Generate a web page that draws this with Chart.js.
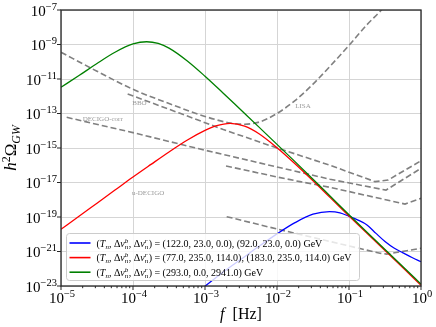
<!DOCTYPE html>
<html>
<head>
<meta charset="utf-8">
<script src="https://cdn.jsdelivr.net/npm/chart.js@4.4.1/dist/chart.umd.min.js"></script>
<style>
  html, body { margin: 0; padding: 0; background: #fff; }
  canvas { display: block; }
</style>
</head>
<body>
<canvas id="gw" width="436" height="327"></canvas>
<script>
// all values are log10 of f [Hz] and log10 of h^2 Omega_GW
const greenLogF = [-5, -4.75, -4.5, -4.25, -4.0, -3.81, -3.65, -3.5, -3.25, -3.0, -2.75, -2.5, -2.25, -2.0, -1.75, -1.5, -1.25, -1.0, -0.75, -0.5, -0.25, 0];
const greenLogH = [-11.48, -10.8, -10.1, -9.45, -8.97, -8.84, -8.94, -9.21, -9.94, -10.84, -11.81, -12.8, -13.79, -14.79, -15.79, -16.81, -17.84, -18.87, -19.88, -20.88, -21.88, -22.89];

const redLogF = [-5, -4.75, -4.5, -4.25, -4.0, -3.75, -3.5, -3.25, -3.0, -2.85, -2.65, -2.45, -2.25, -2.0, -1.75, -1.5, -1.25, -1.0, -0.75, -0.5, -0.25, 0];
const redLogH = [-19.71, -18.96, -18.2, -17.44, -16.68, -15.95, -15.23, -14.55, -13.98, -13.72, -13.57, -13.73, -14.17, -14.98, -15.91, -16.9, -17.92, -18.94, -19.94, -20.94, -21.94, -22.96];

const blueLogF = [-3.1, -2.75, -2.5, -2.25, -2.0, -1.75, -1.5, -1.27, -1.125, -1.0, -0.875, -0.75, -0.625, -0.5, -0.375, -0.25, -0.125, 0];
const blueLogH = [-23.33, -22.2, -21.45, -20.7, -19.98, -19.33, -18.84, -18.69, -18.76, -18.96, -19.18, -19.46, -19.95, -20.42, -20.8, -21.08, -21.35, -21.59];

// detector sensitivity curves (dashed)
const lisaLogF = [-5, -4.5, -4, -3.5, -3.0, -2.65, -2.45, -2.25, -2.0, -1.75, -1.5, -1.25, -1.0, -0.75, -0.55, -0.3];
const lisaLogH = [-9.45, -10.55, -11.6, -12.42, -13.17, -13.55, -13.62, -13.5, -13.0, -12.25, -11.3, -10.2, -9.05, -7.85, -7.0, -5.8];

const bboLogF = [-4.074, -3.347, -2.746, -2.0, -1.264, -0.639, -0.458, 0];
const bboLogH = [-11.87, -12.99, -13.93, -15.0, -16.0, -16.95, -16.86, -15.74];

const decigoCorrLogF = [-4.921, -4.458, -4.0, -3.069, -2.0, -1.264, -0.486, 0];
const decigoCorrLogH = [-13.22, -13.67, -14.11, -15.06, -16.1, -16.81, -17.44, -16.18];

const decigoLogF = [-2.708, -2.0, -1.681, -1.264, -0.222, 0];
const decigoLogH = [-16.04, -16.68, -16.95, -17.28, -18.25, -17.92];

const uDecigoLogF = [-2.699, -1.986, -0.569, -0.476, 0];
const uDecigoLogH = [-18.98, -19.71, -21.1, -21.15, -20.81];

const xTickExps = [-5, -4, -3, -2, -1, 0];
const yTickExps = [-7, -9, -11, -13, -15, -17, -19, -21, -23];

const legendValues = [
  '(122.0, 23.0, 0.0), (92.0, 23.0, 0.0)',
  '(77.0, 235.0, 114.0), (183.0, 235.0, 114.0)',
  '(293.0, 0.0, 2941.0)'
];
const legendColors = ['#0000ff', '#ff0000', '#008000'];

const detectorNames = ['LISA', 'BBO', 'DECIGO-corr', 'u-DECIGO'];
const detectorNameLogF = [-1.64, -3.91, -4.42, -3.79];
const detectorNameLogH = [-12.57, -12.39, -13.35, -17.61];

const SERIF = '"Liberation Serif", "DejaVu Serif", serif';

function toPoints(lf, lh) {
  return lf.map((v, i) => ({ x: Math.pow(10, v), y: Math.pow(10, lh[i]) }));
}

function curve(lf, lh, color) {
  return {
    data: toPoints(lf, lh), borderColor: color, borderWidth: 1.3,
    pointRadius: 0, cubicInterpolationMode: 'monotone', clip: 0
  };
}

function detector(lf, lh, smooth) {
  return {
    data: toPoints(lf, lh), borderColor: '#808080', borderWidth: 1.6,
    borderDash: [6, 3], pointRadius: 0, clip: 0,
    cubicInterpolationMode: smooth ? 'monotone' : 'default', tension: 0
  };
}

// draw (or measure) a run of math-like text pieces
function textRuns(ctx, list, x, y, size, draw) {
  let cx = x;
  for (const [t, kind] of list) {
    if (kind === 'ss') {
      ctx.font = `italic ${size * 0.7}px ${SERIF}`;
      const w = Math.max(ctx.measureText(t[0]).width, ctx.measureText(t[1]).width);
      if (draw) {
        ctx.fillText(t[0], cx, y - size * 0.38);
        ctx.fillText(t[1], cx, y + size * 0.22);
      }
      cx += w + 0.5;
    } else {
      let s = size, dy = 0, style = '';
      if (kind === 'i') style = 'italic ';
      if (kind === 'sub') { s = size * 0.7; dy = size * 0.22; style = 'italic '; }
      if (kind === 'sup') { s = size * 0.7; dy = -size * 0.38; }
      ctx.font = `${style}${s}px ${SERIF}`;
      if (draw) ctx.fillText(t, cx, y + dy);
      cx += ctx.measureText(t).width;
    }
  }
  return cx - x;
}

const decor = {
  id: 'decor',
  afterDatasetsDraw(chart) {
    const { ctx, scales: { x, y } } = chart;
    ctx.save();
    // detector names
    ctx.font = `7px ${SERIF}`;
    ctx.fillStyle = '#9a9a9a';
    ctx.textAlign = 'center';
    ctx.textBaseline = 'middle';
    detectorNames.forEach((n, i) => {
      ctx.fillText(n, x.getPixelForValue(Math.pow(10, detectorNameLogF[i])),
        y.getPixelForValue(Math.pow(10, detectorNameLogH[i])));
    });

    // legend
    const bx = 66.5, by = 233.5, bw = 293, bh = 47;
    ctx.beginPath();
    ctx.roundRect(bx, by, bw, bh, 3);
    ctx.fillStyle = 'rgba(255,255,255,0.8)';
    ctx.fill();
    ctx.strokeStyle = '#cccccc';
    ctx.lineWidth = 1;
    ctx.stroke();
    ctx.textAlign = 'left';
    ctx.textBaseline = 'alphabetic';
    ctx.fillStyle = '#000';
    legendValues.forEach((v, i) => {
      const ry = 243 + i * 14.6;
      ctx.beginPath();
      ctx.moveTo(69.5, ry);
      ctx.lineTo(90.5, ry);
      ctx.strokeStyle = legendColors[i];
      ctx.lineWidth = 1.6;
      ctx.stroke();
      const runs = [['(', 'r'], ['T', 'i'], ['n', 'sub'], [', \u0394', 'r'], ['v', 'i'], [['b', 'n'], 'ss'],
        [', \u0394', 'r'], ['v', 'i'], [['r', 'n'], 'ss'], [') = ' + v + ' GeV', 'r']];
      textRuns(ctx, runs, 96.5, ry + 3.5, 10, true);
    });
    ctx.restore();
  },
  afterDraw(chart) {
    const { ctx, chartArea: a, scales: { x, y } } = chart;
    ctx.save();
    ctx.strokeStyle = '#262626';
    ctx.fillStyle = '#000';
    // tick marks
    ctx.lineWidth = 1;
    ctx.beginPath();
    xTickExps.forEach(e => {
      const px = x.getPixelForValue(Math.pow(10, e));
      ctx.moveTo(px, a.bottom); ctx.lineTo(px, a.bottom + 4);
    });
    for (let e = -5; e < 0; e++) {
      for (let m = 2; m <= 9; m++) {
        const px = x.getPixelForValue(m * Math.pow(10, e));
        ctx.moveTo(px, a.bottom); ctx.lineTo(px, a.bottom + 2.2);
      }
    }
    yTickExps.forEach(e => {
      const py = y.getPixelForValue(Math.pow(10, e));
      ctx.moveTo(a.left - 4, py); ctx.lineTo(a.left, py);
    });
    ctx.stroke();
    // frame
    ctx.lineWidth = 1.3;
    ctx.strokeRect(a.left, a.top, a.right - a.left, a.bottom - a.top);

    // tick labels
    ctx.textBaseline = 'alphabetic';
    ctx.textAlign = 'left';
    const lab = e => [['10', 'r'], ['\u2212' + Math.abs(e), 'sup']];
    const labZero = [['10', 'r'], ['0', 'sup']];
    xTickExps.forEach(e => {
      const runs = e === 0 ? labZero : lab(e);
      const w = textRuns(ctx, runs, 0, 0, 15, false);
      const px = x.getPixelForValue(Math.pow(10, e));
      textRuns(ctx, runs, px - w / 2 + 1, a.bottom + 16.5, 15, true);
    });
    yTickExps.forEach(e => {
      const runs = lab(e);
      const w = textRuns(ctx, runs, 0, 0, 15, false);
      const py = y.getPixelForValue(Math.pow(10, e));
      textRuns(ctx, runs, 57 - w, py + 5.5, 15, true);
    });

    // axis titles
    const xt = [['f', 'i'], ['  [Hz]', 'r']];
    const xw = textRuns(ctx, xt, 0, 0, 16, false);
    textRuns(ctx, xt, (a.left + a.right) / 2 - xw / 2, 319, 16, true);

    const yt = [['h', 'i'], ['2', 'sup'], ['\u03a9', 'r'], ['GW', 'sub']];
    const yw = textRuns(ctx, yt, 0, 0, 17, false);
    ctx.translate(16, (a.top + a.bottom) / 2);
    ctx.rotate(-Math.PI / 2);
    textRuns(ctx, yt, -yw / 2, 0, 17, true);
    ctx.restore();
  }
};

new Chart(document.getElementById('gw'), {
  type: 'line',
  data: {
    datasets: [
      curve(greenLogF, greenLogH, '#008000'),
      curve(redLogF, redLogH, '#ff0000'),
      curve(blueLogF, blueLogH, '#0000ff'),
      detector(lisaLogF, lisaLogH, true),
      detector(bboLogF, bboLogH, false),
      detector(decigoCorrLogF, decigoCorrLogH, false),
      detector(decigoLogF, decigoLogH, false),
      detector(uDecigoLogF, uDecigoLogH, false)
    ]
  },
  options: {
    responsive: false,
    animation: false,
    devicePixelRatio: 1,
    layout: { padding: { top: 10, right: 15, left: 0, bottom: 0 } },
    plugins: { legend: { display: false }, tooltip: { enabled: false } },
    scales: {
      x: {
        type: 'logarithmic', min: 1e-5, max: 1,
        afterBuildTicks: s => { s.ticks = xTickExps.map(e => ({ value: Math.pow(10, e) })); },
        afterFit: s => { s.height = 41; },
        ticks: { display: false },
        grid: { color: '#d5d5d5', lineWidth: 1, drawTicks: false },
        border: { display: false }
      },
      y: {
        type: 'logarithmic', min: 1e-23, max: 1e-7,
        afterBuildTicks: s => { s.ticks = yTickExps.map(e => ({ value: Math.pow(10, e) })); },
        afterFit: s => { s.width = 61; },
        ticks: { display: false },
        grid: { color: '#d5d5d5', lineWidth: 1, drawTicks: false },
        border: { display: false }
      }
    }
  },
  plugins: [decor]
});
</script>
</body>
</html>
